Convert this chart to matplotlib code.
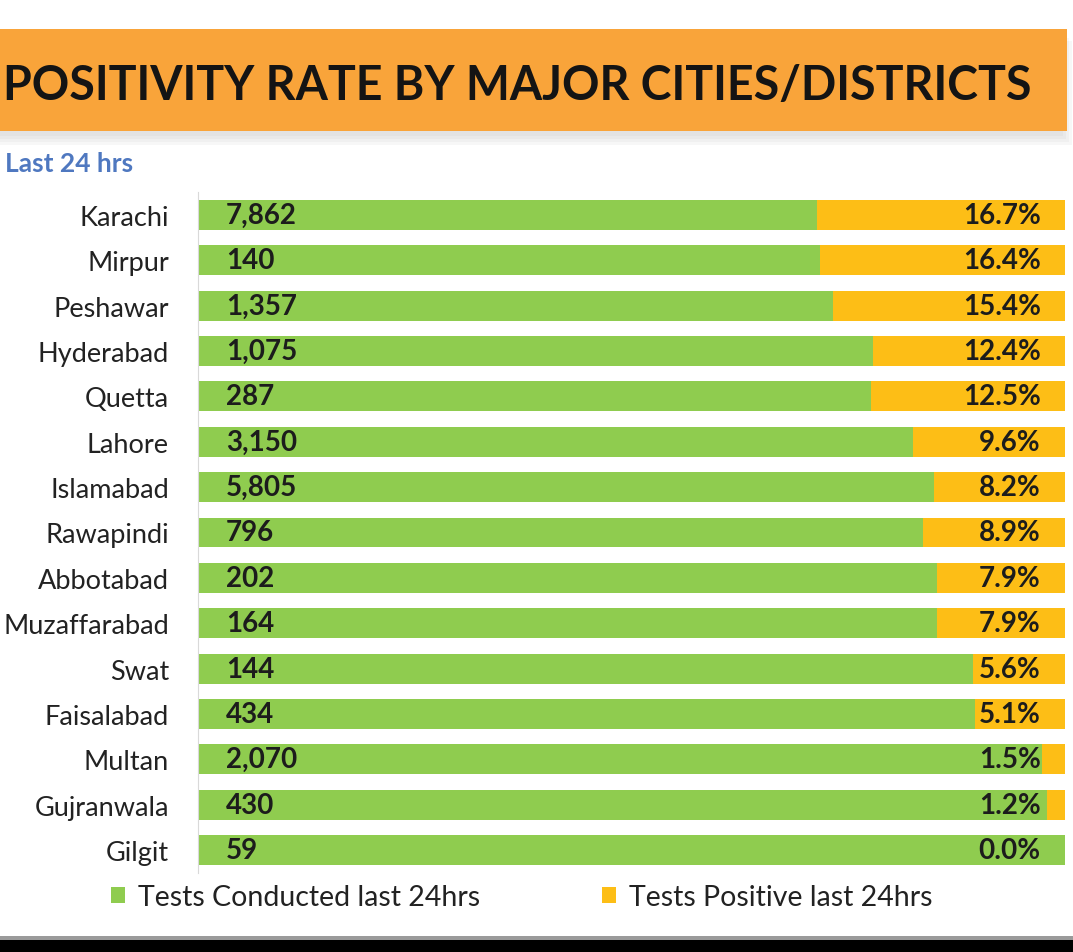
import numpy as np
import matplotlib.pyplot as plt
from matplotlib.patches import Rectangle

plt.rcParams['font.family'] = ['Lato', 'DejaVu Sans']

# data (top to bottom)
cities = ["Karachi", "Mirpur", "Peshawar", "Hyderabad", "Quetta", "Lahore",
          "Islamabad", "Rawapindi", "Abbotabad", "Muzaffarabad", "Swat",
          "Faisalabad", "Multan", "Gujranwala", "Gilgit"]
tests = [7862, 140, 1357, 1075, 287, 3150, 5805, 796, 202, 164, 144, 434,
         2070, 430, 59]
positivity = [16.7, 16.4, 15.4, 12.4, 12.5, 9.6, 8.2, 8.9, 7.9, 7.9, 5.6,
              5.1, 1.5, 1.2, 0.0]
# length of the orange segment as % of the whole bar (as drawn in the source)
positive_share = [28.6, 28.3, 26.8, 22.1, 22.4, 17.5, 15.1, 16.4, 14.8, 14.8,
                  10.6, 10.4, 2.7, 2.1, 0.0]

green = "#8FCC4F"
gold = "#FDBE16"

W, H = 1073, 953
fig = plt.figure(figsize=(W / 100, H / 100), dpi=100)

# title banner with a soft shadow
for i, a in enumerate([0.05, 0.05, 0.05, 0.06]):
    d = 3 + i * 3
    fig.patches.append(Rectangle((-10 / W, 1 - (134 + d) / H), (1070 + d) / W, 104 / H,
                                 transform=fig.transFigure, color="#777777", alpha=a, lw=0))
fig.patches.append(Rectangle((-10 / W, 1 - 132 / H), 1077 / W, 102 / H,
                             transform=fig.transFigure, color="#F9A43A", lw=0))
fig.text(3 / W, 1 - 86 / H, "POSITIVITY RATE BY MAJOR CITIES/DISTRICTS",
         ha="left", va="center", fontsize=33.5, fontweight="bold", color="#141414")
fig.text(5 / W, 1 - 164 / H, "Last 24 hrs", ha="left", va="center",
         fontsize=19, fontweight="bold", color="#4F78C0")

# bottom black strip
fig.patches.append(Rectangle((0, 0), 1, 12 / H, transform=fig.transFigure,
                             color="black", lw=0))
fig.patches.append(Rectangle((0, 12 / H), 1, 4 / H, transform=fig.transFigure,
                             color="#9a9a9a", lw=0))

ax = fig.add_axes([198 / W, 1 - 873.7 / H, 867 / W, (873.7 - 193.3) / H])
y = np.arange(len(cities))
share = np.array(positive_share)
b1 = ax.barh(y, 100 - share, height=0.66, color=green, label="Tests Conducted last 24hrs")
b2 = ax.barh(y, share, left=100 - share, height=0.66, color=gold,
             label="Tests Positive last 24hrs")

for yi, t, p in zip(y, tests, positivity):
    ax.text(3.2, yi, f"{t:,}", ha="left", va="center", fontsize=20,
            fontweight="bold", color="#1c1c1c")
    ax.text(97.2, yi, f"{p:.1f}%", ha="right", va="center", fontsize=20,
            fontweight="bold", color="#1c1c1c")

ax.set_xlim(0, 100)
ax.set_ylim(len(cities) - 0.5, -0.5)
ax.set_yticks(y)
ax.set_yticklabels(cities, fontsize=19.5, color="#222222")
ax.tick_params(axis="y", length=0, pad=21)
ax.set_xticks([])
for s in ["top", "right", "bottom"]:
    ax.spines[s].set_visible(False)
ax.spines["left"].set_color("#D9D9D9")

fig.legend(handles=[b1, b2], loc="center left", ncol=2, frameon=False,
           bbox_to_anchor=(85 / W, 1 - 898 / H), fontsize=20.5,
           handlelength=0.5, handleheight=0.5, handletextpad=0.45,
           columnspacing=4.3, labelcolor="#222222")

plt.savefig("out.png", dpi=100)
